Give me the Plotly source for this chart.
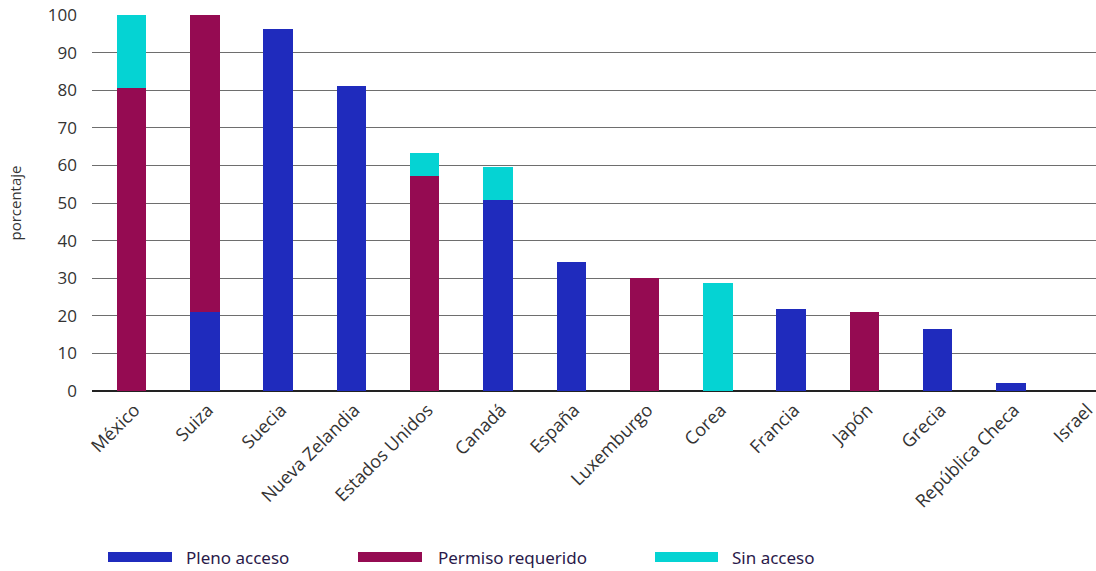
import plotly.graph_objects as go

categories = ["México", "Suiza", "Suecia", "Nueva Zelandia", "Estados Unidos", "Canadá",
              "España", "Luxemburgo", "Corea", "Francia", "Japón", "Grecia",
              "República Checa", "Israel"]
pleno = [0, 21.1, 96.2, 81.2, 0, 50.9, 34.2, 0, 0, 21.9, 0, 16.5, 2.0, 0]
permiso = [80.7, 78.9, 0, 0, 57.2, 0, 0, 30.1, 0, 0, 21.0, 0, 0, 0]
sin = [19.3, 0, 0, 0, 6.0, 8.6, 0, 0, 28.7, 0, 0, 0, 0, 0]
series_names = ["Pleno acceso", "Permiso requerido", "Sin acceso"]
colors = ["#1F2BBD", "#950B52", "#05D3D3"]

W, H = 1096, 571
L, R, T, B = 92, 0, 15, 180

fig = go.Figure()
for name, vals, col in zip(series_names, [pleno, permiso, sin], colors):
    fig.add_bar(x=categories, y=vals, name=name, marker_color=col,
                marker_line_width=0, width=0.4, showlegend=False)

def px(xp):
    return (xp - L) / (W - L - R)

def py(yp):
    return (H - B - yp) / (H - T - B)

legend_items = [(108, 172, 184), (358, 422, 436), (655, 718, 730)]
for (x0, x1, tx), name, col in zip(legend_items, series_names, colors):
    fig.add_shape(type="rect", xref="paper", yref="paper",
                  x0=px(x0), x1=px(x1), y0=py(562), y1=py(552),
                  fillcolor=col, line_width=0)
    fig.add_annotation(xref="paper", yref="paper", x=px(tx), y=py(557),
                       text=name, showarrow=False, xanchor="left", yanchor="middle",
                       font=dict(size=17, color="#2A1A4A", family="Noto Sans"))

fig.update_layout(
    barmode="stack",
    width=W, height=H,
    margin=dict(l=L, r=R, t=T, b=B),
    plot_bgcolor="white", paper_bgcolor="white",
    font=dict(family="Open Sans", size=16, color="#333333"),
)
fig.update_xaxes(range=[-0.54, 13.16], tickangle=-45, showgrid=False, automargin=False,
                 showline=False, ticklabelstandoff=4, ticklabelshift=3,
                 tickfont=dict(size=18, color="#333333", family="Open Sans"))
fig.update_yaxes(range=[0, 100], dtick=10, gridcolor="#6E6E6E", gridwidth=1,
                 zeroline=True, zerolinecolor="#222222", zerolinewidth=1.5,
                 ticklabelstandoff=14, automargin=False,
                 title=dict(text="porcentaje", font=dict(size=15, color="#333333", family="Open Sans"),
                            standoff=22),
                 tickfont=dict(size=17, color="#333333", family="Open Sans"))

fig.write_html("out.html", config={"displayModeBar": False},
               post_script="document.body.style.margin='0';document.body.style.padding='0';")
